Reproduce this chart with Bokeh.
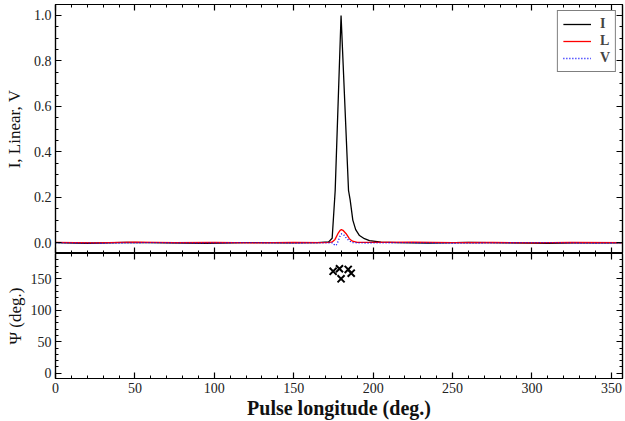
from bokeh.plotting import figure
from bokeh.models import (LinearAxis, SingleIntervalTicker, Range1d, Legend, LegendItem,
                          PrintfTickFormatter, CustomLabelingPolicy)
from bokeh.layouts import column
from bokeh.embed import file_html
from bokeh.resources import INLINE

# ---- data ----
I_lon = [0, 20, 45, 70, 95, 120, 145, 165, 172.0, 174.2, 176.1, 179.8, 184.5, 185.5, 187.2,
         189.0, 191.4, 194.5, 197.7, 205, 215, 235, 260, 285, 310, 335, 357]
I_val = [0.001, -0.002, 0.002, 0.000, -0.002, 0.001, 0.000, 0.001, 0.004, 0.020, 0.230, 1.000, 0.230, 0.190, 0.100,
         0.058, 0.032, 0.018, 0.010, 0.003, 0.001, -0.001, 0.002, 0.000, -0.002, 0.001, 0.000]

L_lon = [0, 25, 50, 75, 100, 125, 150, 168, 172.5, 174.2, 176.0, 177.8, 179.2, 180.0, 181.0, 183.0,
         185.0, 187.0, 190.0, 200, 225, 250, 275, 300, 325, 357]
L_val = [0.002, 0.000, 0.003, 0.001, 0.002, 0.000, 0.002, 0.001, 0.002, 0.004, 0.015, 0.040, 0.055, 0.058, 0.055, 0.040,
         0.018, 0.007, 0.002, 0.002, 0.003, 0.001, 0.002, 0.000, 0.002, 0.001]

V_lon = [0, 30, 60, 90, 120, 150, 170, 174.5, 175.5, 176.5, 177.3, 178.2, 179.2, 180.2, 181.5, 183.0,
         185.0, 187.0, 195, 220, 250, 280, 310, 340, 357]
V_val = [0.000, -0.002, 0.001, -0.001, 0.001, -0.001, 0.000, 0.000, -0.008, -0.012, -0.005, 0.012, 0.030, 0.040, 0.035, 0.022,
         0.008, 0.001, -0.001, 0.001, -0.002, 0.000, 0.001, -0.002, 0.000]

PA_lon = [174.8, 178.8, 179.8, 184.3, 186.2]
PA_val = [162, 166, 150, 165, 159]

series_names = ["I", "L", "V"]
x_ticks_interval = 50
y1_ticks_interval = 0.2
y2_ticks_interval = 50

FONT = "Liberation Serif"
W = 625
LEFT = 55
RIGHT = 3

xr = Range1d(0, 357)


def style_axis(ax, labels=True, size="14px"):
    ax.major_tick_in = 6
    ax.major_tick_out = 0
    ax.minor_tick_in = 3
    ax.minor_tick_out = 0
    ax.axis_line_color = "black"
    ax.axis_line_width = 1.2
    ax.major_tick_line_color = "black"
    ax.minor_tick_line_color = "black"
    ax.major_tick_line_width = 1.2
    ax.minor_tick_line_width = 1
    ax.major_label_text_font = FONT
    ax.major_label_text_color = "#222222"
    ax.axis_label_text_font = FONT
    ax.axis_label_text_color = "#111111"
    ax.axis_label_text_font_style = "normal"
    if labels:
        ax.major_label_text_font_size = size
        ax.major_label_standoff = 4
    else:
        ax.major_label_text_font_size = "0px"
        ax.major_label_standoff = 0
        ax.major_label_policy = CustomLabelingPolicy(code="return []")


def add_axes(p, xint, yint, xminor, yminor, bottom_labels, yfmt=None):
    left_ax = below_ax = None
    for loc in ["left", "right", "above", "below"]:
        if loc in ("left", "right"):
            ax = LinearAxis(ticker=SingleIntervalTicker(interval=yint, num_minor_ticks=yminor))
            if yfmt is not None:
                ax.formatter = PrintfTickFormatter(format=yfmt)
            style_axis(ax, labels=(loc == "left"))
        else:
            ax = LinearAxis(ticker=SingleIntervalTicker(interval=xint, num_minor_ticks=xminor))
            style_axis(ax, labels=(loc == "below" and bottom_labels))
        p.add_layout(ax, loc)
        if loc == "left":
            left_ax = ax
        if loc == "below":
            below_ax = ax
    return left_ax, below_ax


def base_fig(height, yr, top):
    p = figure(width=W, height=height, x_range=xr, y_range=yr,
               output_backend="svg", toolbar_location=None,
               x_axis_location=None, y_axis_location=None,
               min_border_left=LEFT, min_border_right=RIGHT, min_border_top=top, min_border_bottom=0)
    p.outline_line_color = "black"
    p.outline_line_width = 1.2
    p.background_fill_color = "white"
    p.border_fill_color = "white"
    p.grid.visible = False
    return p


# ---- top panel ----
p1 = base_fig(253, Range1d(-0.047, 1.048), 4)
la1, ba1 = add_axes(p1, x_ticks_interval, y1_ticks_interval, 5, 4, False, yfmt="%.1f")
la1.axis_label = "I, Linear, V"
la1.axis_label_text_font_size = "17px"
la1.axis_label_standoff = 7

rI = p1.line(I_lon, I_val, line_color="black", line_width=1.3)
rL = p1.line(L_lon, L_val, line_color="red", line_width=1.3)
rV = p1.line(V_lon, V_val, line_color="blue", line_width=1.3, line_dash="1 2")

legend = Legend(items=[LegendItem(label=series_names[0], renderers=[rI]),
                       LegendItem(label=series_names[1], renderers=[rL]),
                       LegendItem(label=series_names[2], renderers=[rV])],
                location="top_right")
legend.margin = 6
legend.padding = 5
legend.spacing = 1
legend.glyph_width = 28
legend.glyph_height = 16
legend.label_height = 16
legend.label_width = 10
legend.label_standoff = 9
legend.label_text_font = FONT
legend.label_text_font_size = "14px"
legend.label_text_font_style = "bold"
legend.border_line_color = "black"
legend.border_line_width = 1
legend.background_fill_alpha = 1
p1.add_layout(legend, "center")

# ---- bottom panel ----
p2 = base_fig(168, Range1d(-8.4, 190.3), 0)
la2, ba2 = add_axes(p2, x_ticks_interval, y2_ticks_interval, 5, 5, True)
la2.axis_label = "Ψ (deg.)"
la2.axis_label_text_font_size = "17px"
la2.axis_label_standoff = 3
ba2.axis_label = "Pulse longitude (deg.)"
ba2.axis_label_text_font_size = "20px"
ba2.axis_label_text_font_style = "bold"
ba2.axis_label_standoff = 1

p2.scatter(PA_lon, PA_val, marker="x", size=10, line_color="black", line_width=2)

layout = column(p1, p2, spacing=0)
open("out.html", "w").write(file_html(layout, INLINE))
